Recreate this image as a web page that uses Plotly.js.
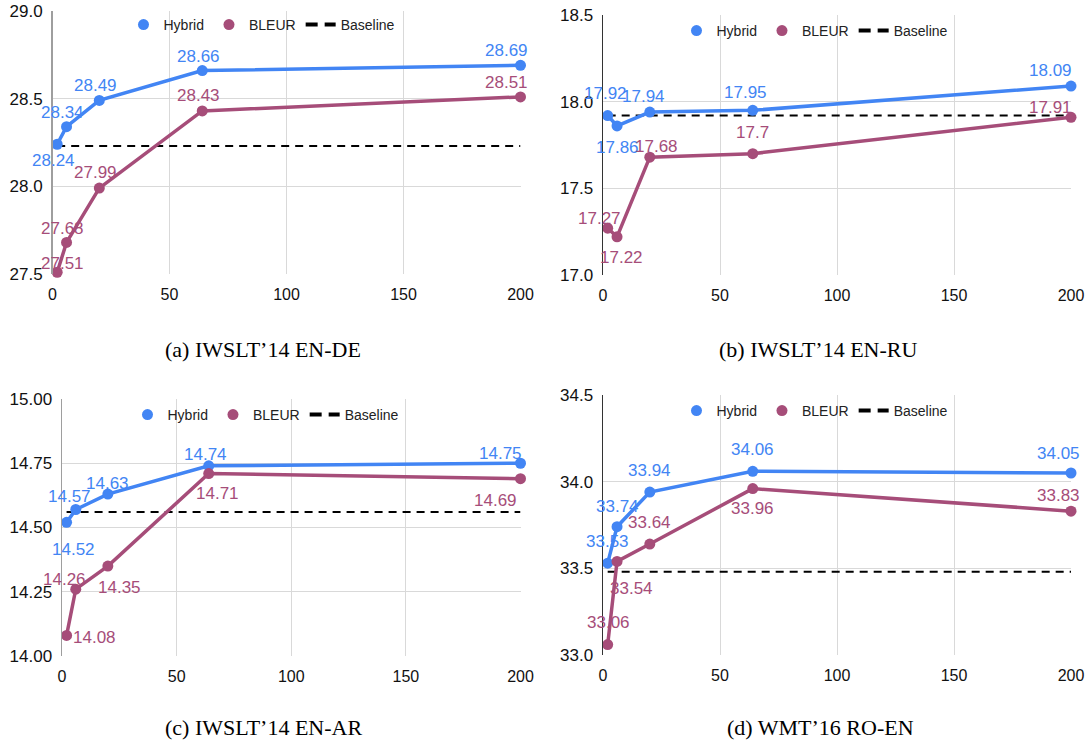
<!DOCTYPE html>
<html>
<head>
<meta charset="utf-8">
<script src="https://cdn.plot.ly/plotly-3.0.1.min.js"></script>
<style>html,body{margin:0;padding:0;background:#fff;}#chart{width:1090px;height:742px;}</style>
</head>
<body>
<div id="chart"></div>
<script>
// ---------- data ----------
const xSteps = [2, 6, 20, 64, 200];

const deHybrid   = [28.24, 28.34, 28.49, 28.66, 28.69];
const deBleur    = [27.51, 27.68, 27.99, 28.43, 28.51];
const deBaseline = [28.23, 28.23, 28.23, 28.23, 28.23];

const ruHybrid   = [17.92, 17.86, 17.94, 17.95, 18.09];
const ruBleur    = [17.27, 17.22, 17.68, 17.7, 17.91];
const ruBaseline = [17.92, 17.92, 17.92, 17.92, 17.92];

const arHybrid   = [14.52, 14.57, 14.63, 14.74, 14.75];
const arBleur    = [14.08, 14.26, 14.35, 14.71, 14.69];
const arBaseline = [14.56, 14.56, 14.56, 14.56, 14.56];

const roHybrid   = [33.53, 33.74, 33.94, 34.06, 34.05];
const roBleur    = [33.06, 33.54, 33.64, 33.96, 33.83];
const roBaseline = [33.48, 33.48, 33.48, 33.48, 33.48];

const seriesNames = ['Hybrid', 'BLEUR', 'Baseline'];
const captions = ['(a) IWSLT\u201914 EN-DE', '(b) IWSLT\u201914 EN-RU', '(c) IWSLT\u201914 EN-AR', '(d) WMT\u201916 RO-EN'];

// ---------- style ----------
const BLUE = '#4285F4', PLUM = '#A64D79';
const SANS = 'Liberation Sans, Arial, sans-serif';
const SERIF = 'Liberation Serif, Times New Roman, serif';

// label offsets (px) of each data label centre relative to its point [dx, dy]
const labelOffsets = [
  { h: [[-4,16],[-4,-14],[-4,-15],[-4,-14],[-14,-15]], b: [[5,-9],[-4,-14],[-4,-16],[-4,-15],[-14,-14]] },
  { h: [[-2,-22],[0,22],[-6,-16],[-7,-18],[-21,-16]], b: [[-8,-10],[4,21],[7,-11],[0,-21],[-21,-10]] },
  { h: [[7,27],[-6,-13],[0,-11],[-3,-11],[-20,-10]], b: [[28,2],[-11,-10],[12,21],[9,20],[-25,22]] },
  { h: [[0,-22],[0,-20],[0,-22],[0,-22],[-13,-20]], b: [[1,-22],[14,27],[0,-22],[0,20],[-13,-16]] }
];

const panels = [
  { hyb: deHybrid, ble: deBleur, base: deBaseline, yr: [27.5, 29.0], dt: 0.5, fmt: '.1f',
    xd: [52.5, 520.5], yd: [11, 274], line: '#9e9e9e', leg: [262, 25], cap: [263, 349] },
  { hyb: ruHybrid, ble: ruBleur, base: ruBaseline, yr: [17.0, 18.5], dt: 0.5, fmt: '.1f',
    xd: [603, 1071], yd: [15, 275], line: '#333333', leg: [815, 31], cap: [818, 349] },
  { hyb: arHybrid, ble: arBleur, base: arBaseline, yr: [14.0, 15.0], dt: 0.25, fmt: '.2f',
    xd: [62, 520.5], yd: [399, 656], line: '#9e9e9e', leg: [266, 415], cap: [263, 727] },
  { hyb: roHybrid, ble: roBleur, base: roBaseline, yr: [33.0, 34.5], dt: 0.5, fmt: '.1f',
    xd: [603, 1071], yd: [395, 655], line: '#333333', leg: [815, 411], cap: [820, 727] }
];

const W = 1090, H = 742;
const traces = [];
const annotations = [];
const layout = {
  width: W, height: H,
  margin: { l: 0, r: 0, t: 0, b: 0 },
  paper_bgcolor: '#fff', plot_bgcolor: '#fff',
  showlegend: true,
  font: { family: SANS, color: '#222' }
};

panels.forEach((p, i) => {
  const n = i === 0 ? '' : String(i + 1);
  const xa = 'x' + n, ya = 'y' + n;
  const legName = 'legend' + n;

  layout['xaxis' + n] = {
    domain: [p.xd[0] / W, p.xd[1] / W], anchor: ya,
    range: [0, 200], tick0: 0, dtick: 50,
    showgrid: true, gridcolor: '#d9d9d9', gridwidth: 1,
    zeroline: false, showline: false,
    ticks: 'outside', ticklen: 6, tickcolor: 'rgba(0,0,0,0)',
    tickfont: { family: SANS, size: 16, color: '#111' }, fixedrange: true
  };
  layout['yaxis' + n] = {
    domain: [1 - p.yd[1] / H, 1 - p.yd[0] / H], anchor: xa,
    range: p.yr, tick0: p.yr[0], dtick: p.dt, tickformat: p.fmt,
    showgrid: true, gridcolor: '#d9d9d9', gridwidth: 1,
    zeroline: false, showline: true, linecolor: p.line, linewidth: 1.5,
    ticks: 'outside', ticklen: 5, tickcolor: 'rgba(0,0,0,0)',
    tickfont: { family: SANS, size: 17, color: '#111' }, fixedrange: true
  };
  layout[legName] = {
    orientation: 'h', x: p.leg[0] / W, y: 1 - p.leg[1] / H,
    xanchor: 'center', yanchor: 'middle', bgcolor: 'rgba(0,0,0,0)',
    font: { family: SANS, size: 14, color: '#222' }, itemwidth: 30, traceorder: 'normal'
  };

  // lines
  traces.push({ x: xSteps, y: p.base, xaxis: xa, yaxis: ya, mode: 'lines', showlegend: false,
    line: { color: '#000', width: 2, dash: '8px,6px' }, hoverinfo: 'skip' });
  traces.push({ x: xSteps, y: p.ble, xaxis: xa, yaxis: ya, mode: 'lines', showlegend: false,
    line: { color: PLUM, width: 3.5 }, hoverinfo: 'skip' });
  traces.push({ x: xSteps, y: p.hyb, xaxis: xa, yaxis: ya, mode: 'lines', showlegend: false,
    line: { color: BLUE, width: 3.5 }, hoverinfo: 'skip' });
  // markers (also legend entries)
  traces.push({ x: xSteps, y: p.hyb, xaxis: xa, yaxis: ya, mode: 'markers', name: seriesNames[0],
    legend: legName, cliponaxis: false, marker: { color: BLUE, size: 11 }, hoverinfo: 'skip' });
  traces.push({ x: xSteps, y: p.ble, xaxis: xa, yaxis: ya, mode: 'markers', name: seriesNames[1],
    legend: legName, cliponaxis: false, marker: { color: PLUM, size: 11 }, hoverinfo: 'skip' });
  // legend-only sample for baseline (thick dashes as in the reference legend)
  traces.push({ x: [null], y: [null], xaxis: xa, yaxis: ya, mode: 'lines', name: seriesNames[2],
    legend: legName, line: { color: '#000', width: 4, dash: '12px,7px' }, hoverinfo: 'skip' });

  // data labels
  [[p.hyb, BLUE, labelOffsets[i].h], [p.ble, PLUM, labelOffsets[i].b]].forEach(([vals, col, offs]) => {
    vals.forEach((v, k) => {
      annotations.push({
        x: xSteps[k], y: v, xref: xa, yref: ya, text: String(v), showarrow: false,
        xanchor: 'center', yanchor: 'middle', xshift: offs[k][0], yshift: -offs[k][1],
        font: { family: SANS, size: 17, color: col }
      });
    });
  });

  // caption
  annotations.push({
    x: p.cap[0] / W, y: 1 - p.cap[1] / H, xref: 'paper', yref: 'paper',
    text: captions[i], showarrow: false, xanchor: 'center', yanchor: 'middle',
    font: { family: SERIF, size: 22, color: '#000' }
  });
});

layout.annotations = annotations;
Plotly.newPlot('chart', traces, layout, { staticPlot: true, displayModeBar: false });
</script>
</body>
</html>
